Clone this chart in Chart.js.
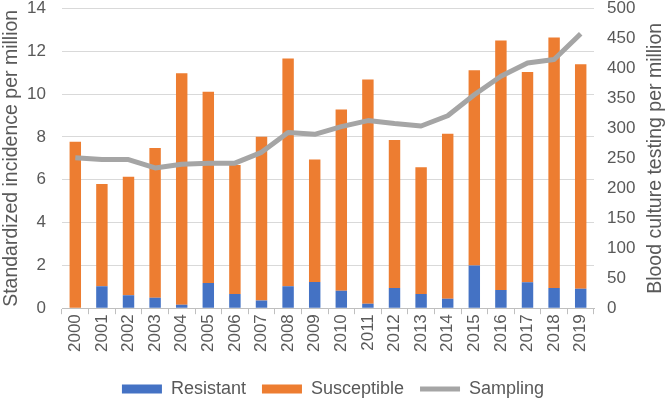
<!DOCTYPE html>
<html>
<head>
<meta charset="utf-8">
<script src="https://cdn.jsdelivr.net/npm/chart.js@4/dist/chart.umd.min.js"></script>
<style>
  html, body { margin: 0; padding: 0; background: #fff; }
  .wrap { width: 666px; height: 400px; position: relative; }
</style>
</head>
<body>
<div class="wrap"><canvas id="bsiChart"></canvas></div>
<script>
// data
const years = ['2000','2001','2002','2003','2004','2005','2006','2007','2008','2009',
               '2010','2011','2012','2013','2014','2015','2016','2017','2018','2019'];
const resistant = [0, 1.03, 0.60, 0.49, 0.16, 1.18, 0.66, 0.36, 1.03, 1.22,
                   0.82, 0.21, 0.94, 0.66, 0.44, 1.99, 0.85, 1.21, 0.94, 0.91];
const totalIncidence = [7.77, 5.80, 6.14, 7.48, 10.98, 10.11, 6.69, 8.01, 11.67, 6.95,
                        9.28, 10.68, 7.86, 6.58, 8.15, 11.12, 12.50, 11.03, 12.64, 11.39];
const susceptible = totalIncidence.map((t, i) => +(t - resistant[i]).toFixed(2));
const sampling = [251, 248, 248, 234, 240, 242, 242, 260, 293, 290,
                  303, 313, 308, 304, 321, 356, 387, 409, 415, 458];

const txt = '#595959';
const family = 'Liberation Sans, Arial, sans-serif';
const tickFont = { family: family, size: 17, lineHeight: 1 };
const titleFont = { family: family, size: 19.5 };
const rightTitle = 'Blood culture testing per million';

// right axis title reads bottom-to-top like the left one
const rightTitlePlugin = {
    id: 'rightTitle',
    afterDraw(chart) {
        const c = chart.ctx, a = chart.chartArea;
        c.save();
        c.translate(656, (a.top + a.bottom) / 2);
        c.rotate(-Math.PI / 2);
        c.fillStyle = txt;
        c.font = titleFont.size + 'px ' + family;
        c.textAlign = 'center';
        c.textBaseline = 'middle';
        c.fillText(rightTitle, 0, 0);
        c.restore();
    }
};

const ctx = document.getElementById('bsiChart').getContext('2d');
new Chart(ctx, {
    type: 'bar',
    data: {
        labels: years,
        datasets: [{
            label: 'Resistant',
            data: resistant,
            backgroundColor: '#4472C4',
            stack: 'inc',
            order: 1
        }, {
            label: 'Susceptible',
            data: susceptible,
            backgroundColor: '#ED7D31',
            stack: 'inc',
            order: 1
        }, {
            type: 'line',
            label: 'Sampling',
            data: sampling,
            yAxisID: 'y1',
            borderColor: '#A5A5A5',
            backgroundColor: '#A5A5A5',
            borderWidth: 5,
            pointRadius: 0,
            borderJoinStyle: 'round',
            tension: 0,
            order: 0
        }]
    },
    plugins: [rightTitlePlugin],
    options: {
        responsive: true,
        maintainAspectRatio: false,
        animation: false,
        barPercentage: 0.43,
        categoryPercentage: 1,
        layout: { padding: { left: 0, right: 0, top: 0, bottom: -8 } },
        plugins: {
            tooltip: { enabled: false },
            legend: {
                position: 'bottom',
                labels: {
                    color: txt,
                    font: { family: family, size: 18 },
                    usePointStyle: true,
                    pointStyleWidth: 40,
                    boxHeight: 9,
                    padding: 16,
                    sort: (a, b) => a.datasetIndex - b.datasetIndex,
                    generateLabels: chart => Chart.defaults.plugins.legend.labels.generateLabels(chart)
                        .map(l => Object.assign(l, { pointStyle: l.datasetIndex === 2 ? 'line' : 'rect' }))
                }
            }
        },
        scales: {
            x: {
                stacked: true,
                grid: { offset: true, drawOnChartArea: false, tickLength: 6, color: '#bfbfbf' },
                border: { color: '#bfbfbf' },
                ticks: { color: txt, font: tickFont, maxRotation: 90, minRotation: 90, padding: 0 },
                afterFit: s => { s.height += 12; }
            },
            y: {
                stacked: true,
                position: 'left',
                min: 0,
                max: 14,
                ticks: { stepSize: 2, color: txt, font: tickFont, padding: 0 },
                // invisible tick marks push the labels away from the plot
                grid: { color: '#d9d9d9', drawTicks: true, tickLength: 16, tickColor: 'rgba(0,0,0,0)' },
                border: { display: false },
                title: { display: true, text: 'Standardized incidence per million', color: txt, font: titleFont, padding: 0 },
                afterFit: s => { s.width = 62; }
            },
            y1: {
                position: 'right',
                min: 0,
                max: 500,
                ticks: { stepSize: 50, color: txt, font: tickFont, padding: 0 },
                grid: { drawOnChartArea: false, drawTicks: true, tickLength: 13, tickColor: 'rgba(0,0,0,0)' },
                border: { display: false },
                afterFit: s => { s.width = 72; }
            }
        }
    }
});
</script>
</body>
</html>
